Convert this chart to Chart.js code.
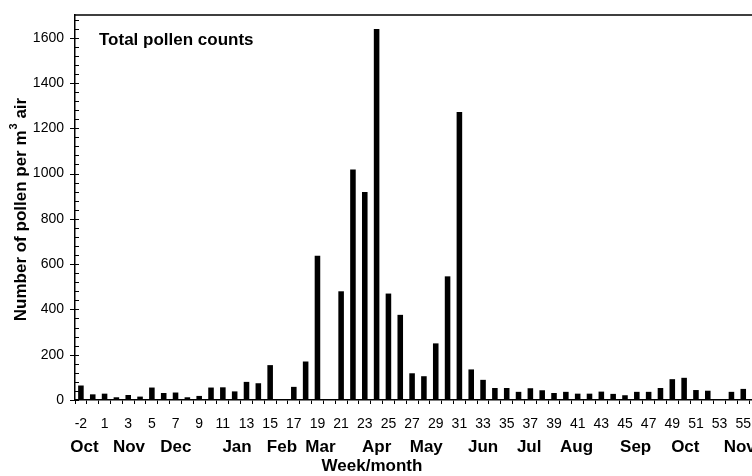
<!DOCTYPE html>
<html>
<head>
<meta charset="utf-8">
<script src="https://cdn.jsdelivr.net/npm/chart.js@4/dist/chart.umd.min.js"></script>
<style>
  body { margin: 0; background: #fff; overflow: hidden; }
  canvas { display: block; }
</style>
</head>
<body>
<canvas id="pollenChart" width="775" height="476"></canvas>
<script>
// weekly sampling weeks (there is no week 0)
var weeks = [-2, -1, 1, 2, 3, 4, 5, 6, 7, 8, 9, 10, 11, 12, 13, 14, 15, 16, 17, 18, 19, 20,
    21, 22, 23, 24, 25, 26, 27, 28, 29, 30, 31, 32, 33, 34, 35, 36, 37, 38, 39, 40,
    41, 42, 43, 44, 45, 46, 47, 48, 49, 50, 51, 52, 53, 54, 55, 56];

// total pollen per m3 air for each week
var pollen = [64, 25, 28, 12, 22, 15, 55, 31, 33, 12, 18, 55, 56, 38, 80, 74, 154, 0, 58, 170, 637, 0,
    480, 1018, 918, 1638, 470, 376, 118, 105, 250, 546, 1272, 135, 89, 53, 53, 36, 52, 43, 31, 36,
    28, 28, 37, 27, 21, 36, 36, 53, 92, 98, 44, 41, 0, 36, 49, 40];

// month names and the week they sit under
var months = ['Oct', 'Nov', 'Dec', 'Jan', 'Feb', 'Mar', 'Apr', 'May', 'Jun', 'Jul', 'Aug', 'Sep', 'Oct', 'Nov'];
var monthWeek = [-1.7, 3.06, 7.03, 12.2, 16, 19.25, 24, 28.2, 33, 36.9, 40.9, 45.9, 50.1, 54.7];

var yMax = 1700;
var yMajor = 200;
var yMinor = 40;

var FONT = '"Liberation Sans", Arial, sans-serif';

function weekIndex(w) { // category index for a (possibly fractional) week
    return w < 0 ? w + 2 : w + 1;
}

var extras = {
    id: 'extras',
    afterDraw: function (chart) {
        var ctx = chart.ctx;
        var area = chart.chartArea;
        var x = chart.scales.x;
        var y = chart.scales.y;

        ctx.save();
        ctx.strokeStyle = '#000';
        ctx.lineWidth = 1.5;
        // frame top and right
        ctx.beginPath();
        ctx.moveTo(area.left, area.top);
        ctx.lineTo(area.right, area.top);
        ctx.lineTo(area.right, area.bottom);
        ctx.stroke();

        // y ticks: minor inside, major across the axis
        ctx.lineWidth = 1;
        for (var v = 0; v <= yMax; v += yMinor) {
            var py = Math.round(y.getPixelForValue(v)) + 0.5;
            ctx.beginPath();
            if (v % yMajor === 0) {
                ctx.moveTo(area.left - 5, py);
            } else {
                ctx.moveTo(area.left, py);
            }
            ctx.lineTo(area.left + 4, py);
            ctx.stroke();
        }

        ctx.fillStyle = '#000';
        ctx.font = 'bold 17px ' + FONT;

        // caption inside the plot
        ctx.textAlign = 'left';
        ctx.textBaseline = 'alphabetic';
        ctx.fillText('Total pollen counts', area.left + 24, area.top + 30);

        // month row under the week numbers
        ctx.textAlign = 'center';
        for (var i = 0; i < months.length; i++) {
            ctx.fillText(months[i], x.getPixelForValue(weekIndex(monthWeek[i])), 452);
        }

        // x axis title
        ctx.textBaseline = 'middle';
        ctx.fillText('Week/month', 372, 466);

        // y axis title with superscript
        var p1 = 'Number of pollen per m', sup = '3', p2 = ' air';
        ctx.save();
        ctx.translate(21, (area.top + area.bottom) / 2 + 2);
        ctx.rotate(-Math.PI / 2);
        ctx.textAlign = 'left';
        ctx.textBaseline = 'middle';
        ctx.font = 'bold 17px ' + FONT;
        var w1 = ctx.measureText(p1).width;
        var w3 = ctx.measureText(p2).width;
        ctx.font = 'bold 11px ' + FONT;
        var w2 = ctx.measureText(sup).width + 1;
        var sx = -(w1 + w2 + w3) / 2;
        ctx.font = 'bold 17px ' + FONT;
        ctx.fillText(p1, sx, 0);
        ctx.fillText(p2, sx + w1 + w2, 0);
        ctx.font = 'bold 11px ' + FONT;
        ctx.fillText(sup, sx + w1 + 1, -7);
        ctx.restore();

        ctx.restore();
    }
};

var ctxBar = document.getElementById('pollenChart').getContext('2d');
var pollenChart = new Chart(ctxBar, {
    type: 'bar',
    data: {
        labels: weeks,
        datasets: [{
            label: 'Total pollen counts',
            data: pollen,
            backgroundColor: '#000',
            borderWidth: 0,
            barPercentage: 0.47,
            categoryPercentage: 1.0
        }]
    },
    options: {
        responsive: false,
        animation: false,
        layout: { padding: { top: 15, right: 14, left: 0, bottom: 0 } },
        plugins: {
            legend: { display: false },
            tooltip: { enabled: false }
        },
        scales: {
            x: {
                offset: true,
                grid: {
                    offset: true,
                    drawOnChartArea: false,
                    drawTicks: true,
                    tickLength: 4,
                    color: '#000',
                    lineWidth: 1
                },
                border: { color: '#000', width: 1.5 },
                ticks: {
                    autoSkip: false,
                    maxRotation: 0,
                    minRotation: 0,
                    padding: 12,
                    color: '#000',
                    font: { family: FONT, size: 14 },
                    callback: function (val, index) {
                        return index % 2 === 0 ? String(weeks[index]) : '';
                    }
                },
                afterFit: function (scale) { scale.height = 76; }
            },
            y: {
                min: 0,
                max: yMax,
                grid: {
                    drawOnChartArea: false,
                    drawTicks: true,
                    tickLength: 5,
                    color: 'rgba(0,0,0,0)'
                },
                border: { color: '#000', width: 1.5 },
                ticks: {
                    stepSize: yMajor,
                    padding: 6,
                    color: '#000',
                    font: { family: FONT, size: 14 },
                    callback: function (val) {
                        return val % yMajor === 0 ? String(val) : '';
                    }
                },
                afterFit: function (scale) { scale.width = 75; }
            }
        }
    },
    plugins: [extras]
});
</script>
</body>
</html>
